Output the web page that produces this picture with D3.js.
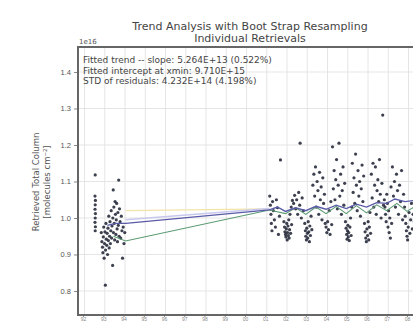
<!DOCTYPE html>
<html>
<head>
<meta charset="utf-8">
<script src="https://cdn.jsdelivr.net/npm/d3@7"></script>
<style>
  body { margin: 0; background: #fff; }
  svg { display: block; font-family: "DejaVu Sans", sans-serif; }
</style>
</head>
<body>
<div id="chart"></div>
<script>
// retrievals, [decimal year, column / 1e16]
const campaign1 = [
  [1992.60,1.118],[1992.59,1.060],[1992.61,1.048],[1992.60,1.036],[1992.59,1.024],[1992.61,1.012],
  [1992.60,1.000],[1992.59,0.988],[1992.61,0.976],[1992.60,0.965],
  [1992.90,0.960],[1992.93,0.935],[1992.96,0.920],[1992.98,0.905],[1993.00,0.948],[1993.02,0.975],
  [1993.04,0.890],[1993.06,0.930],[1993.08,0.962],[1993.10,0.816],[1993.11,0.912],[1993.13,0.985],
  [1993.15,0.942],[1993.17,0.925],[1993.19,0.958],[1993.21,0.900],[1993.23,0.972],[1993.25,0.938],
  [1993.27,1.005],[1993.29,0.918],[1993.31,0.950],[1993.33,0.990],[1993.35,0.930],[1993.37,0.965],
  [1993.39,1.020],[1993.41,0.945],[1993.43,0.978],
  [1993.46,0.870],[1993.47,1.000],[1993.49,1.077],[1993.50,0.960],[1993.52,1.030],[1993.54,0.985],
  [1993.56,0.940],[1993.58,1.045],[1993.60,1.010],[1993.62,0.955],[1993.64,0.995],[1993.66,1.040],
  [1993.68,0.970],[1993.70,0.935],[1993.72,1.015],[1993.74,0.980],[1993.76,1.104],[1993.78,0.950],
  [1993.80,1.025],[1993.83,0.990],[1993.86,0.945],[1993.89,1.005],[1993.92,0.965],[1993.95,0.890],
  [1993.98,0.975],[1994.02,0.930],[1994.06,0.960]
];

const campaign2 = [
  [2001.22,1.060],[2001.25,1.035],[2001.28,1.010],[2001.30,0.985],[2001.33,0.965],[2001.36,1.045],
  [2001.40,1.020],[2001.45,0.995],[2001.50,0.975],[2001.55,1.050],[2001.60,1.028],[2001.65,0.955],
  [2001.70,1.005],[2001.75,1.159],
  [2001.92,0.990],[2001.95,0.975],[2001.97,0.962],[2002.00,0.955],[2002.02,0.948],[2002.04,0.970],
  [2002.06,0.985],[2002.08,0.940],[2002.10,0.960],[2002.12,0.978],[2002.14,0.952],[2002.16,0.995],
  [2002.18,0.945],[2002.20,0.968],[2002.22,1.010],[2002.25,0.958],[2002.28,1.030],[2002.30,0.982],
  [2002.34,1.048],
  [2002.40,1.040],[2002.45,1.062],[2002.50,1.025],[2002.55,1.050],[2002.60,1.010],[2002.65,1.070],
  [2002.70,1.035],[2002.72,1.205],[2002.78,1.000],[2002.82,1.055],[2002.88,1.020],
  [2002.95,0.985],[2002.98,0.965],[2003.00,0.950],[2003.03,0.940],[2003.05,0.972],[2003.08,0.958],
  [2003.10,0.945],[2003.12,0.990],[2003.15,0.962],[2003.18,0.935],[2003.20,0.978],[2003.23,0.952],
  [2003.26,1.005],[2003.30,0.968],
  [2003.35,1.090],[2003.40,1.120],[2003.44,1.060],[2003.48,1.140],[2003.52,1.030],[2003.56,1.100],
  [2003.60,1.075],[2003.64,1.010],[2003.68,1.125],[2003.72,1.050],[2003.76,1.085],[2003.80,0.995],
  [2003.84,1.110],[2003.88,1.040],[2003.92,1.065],[2003.96,0.985],
  [2004.00,0.975],[2004.04,0.960],[2004.08,0.990],[2004.12,0.968],[2004.16,1.020],[2004.20,0.955],
  [2004.24,1.045],[2004.28,0.982],
  [2004.32,1.195],[2004.36,1.080],[2004.40,1.130],[2004.44,1.050],[2004.48,1.105],[2004.52,1.160],
  [2004.56,1.025],[2004.60,1.090],[2004.64,1.205],[2004.68,1.060],[2004.72,1.120],[2004.76,1.010],
  [2004.80,1.075],[2004.84,1.140],[2004.88,1.035],[2004.92,1.095],
  [2004.96,0.990],[2004.99,0.972],[2005.02,0.955],[2005.04,0.942],[2005.06,0.965],[2005.08,0.980],
  [2005.10,0.948],[2005.12,0.960],[2005.15,0.938],[2005.18,0.975],[2005.21,1.000],[2005.24,0.952],
  [2005.27,1.030],
  [2005.30,1.150],[2005.34,1.070],[2005.38,1.110],[2005.42,1.040],[2005.46,1.175],[2005.50,1.090],
  [2005.54,1.020],[2005.58,1.130],[2005.62,1.060],[2005.66,1.100],[2005.70,1.005],[2005.74,1.080],
  [2005.78,1.145],[2005.82,1.045],[2005.86,1.115],
  [2005.90,0.985],[2005.93,0.962],[2005.96,0.945],[2005.99,0.935],[2006.02,0.970],[2006.05,0.952],
  [2006.08,0.990],[2006.11,0.940],[2006.14,0.975],[2006.17,1.015],[2006.20,0.958],
  [2006.24,1.120],[2006.28,1.055],[2006.32,1.150],[2006.36,1.030],[2006.40,1.090],[2006.44,1.140],
  [2006.48,1.010],[2006.52,1.075],[2006.56,1.105],[2006.60,1.045],[2006.64,1.160],[2006.68,1.065],
  [2006.72,1.000],[2006.76,1.095],[2006.80,1.282],[2006.84,1.035],
  [2006.88,1.050],[2006.91,1.030],[2006.94,1.010],[2006.97,0.990],[2007.00,1.065],[2007.03,1.040],
  [2007.06,0.975],[2007.09,1.020],[2007.12,0.960],[2007.15,1.000],[2007.18,0.945],[2007.21,1.085],
  [2007.24,0.985],
  [2007.28,1.140],[2007.33,1.060],[2007.38,1.100],[2007.43,1.030],[2007.48,1.120],[2007.53,1.075],
  [2007.58,1.010],[2007.63,1.090],[2007.68,1.045],[2007.73,1.130],[2007.78,0.995],[2007.83,1.065],
  [2007.88,1.030],[2007.91,1.005],[2007.94,0.985],[2007.97,0.965],[2008.00,0.950],[2008.03,0.940],
  [2008.06,0.975],[2008.10,1.015],[2008.14,0.958],[2008.18,0.995],[2008.22,1.040],[2008.26,0.970],
  [2008.30,1.010],[2008.36,0.990],[2008.42,1.025]
];

// fitted curves
const bootFit = [
  [1993.2,0.980],[1993.6,0.985],[1994.1,0.985],[2001.2,1.022],[2001.6,1.030],
  [2002.0,1.018],[2002.5,1.028],[2003.0,1.020],[2003.5,1.032],[2004.0,1.024],[2004.5,1.035],
  [2005.0,1.026],[2005.5,1.038],[2006.0,1.030],[2006.5,1.042],[2007.0,1.040],[2007.4,1.052],
  [2007.9,1.045],[2008.4,1.048]
];
const trendFit = [
  [1993.5,0.950],[1994.1,0.937],[2001.2,1.022],[2002.0,1.012],[2002.5,1.028],[2003.0,1.010],
  [2003.5,1.030],[2004.0,1.012],[2004.5,1.032],[2005.0,1.012],[2005.5,1.034],[2006.0,1.014],
  [2006.5,1.036],[2007.0,1.020],[2007.5,1.040],[2008.0,1.018],[2008.4,1.032]
];
const upperFit = [[1994.1,0.995],[2001.2,1.026]];
const faintFit = [[1994.1,1.020],[2001.2,1.025]];

const yTicks = [0.8, 0.9, 1.0, 1.1, 1.2, 1.3, 1.4];
const xTicks = d3.range(1992, 2009);
const titleLines = ["Trend Analysis with Boot Strap Resampling", "Individual Retrievals"];
const infoLines = [
  "Fitted trend -- slope: 5.264E+13 (0.522%)",
  "Fitted intercept at xmin: 9.710E+15",
  "STD of residuals: 4.232E+14 (4.198%)"
];

const width = 413, height = 322;
const margin = {top: 47, left: 78, bottom: 7};
const plotRight = 422;

const svg = d3.select("#chart").append("svg")
  .attr("width", width)
  .attr("height", height);

const x = d3.scaleLinear()
  .domain([1991.75, 2008.74])
  .range([margin.left, plotRight]);

const y = d3.scaleLinear()
  .domain([0.7342, 1.4685])
  .range([height - margin.bottom, margin.top]);

// grid
svg.append("g")
  .selectAll("line")
  .data(xTicks)
  .join("line")
  .attr("x1", d => x(d) + 1.5).attr("x2", d => x(d) + 1.5)
  .attr("y1", margin.top).attr("y2", height - margin.bottom)
  .attr("stroke", "#e2e2e2")
  .attr("stroke-width", 0.9);

svg.append("g")
  .selectAll("line")
  .data(yTicks)
  .join("line")
  .attr("x1", margin.left).attr("x2", plotRight)
  .attr("y1", d => y(d)).attr("y2", d => y(d))
  .attr("stroke", "#e2e2e2")
  .attr("stroke-width", 0.9);

// axes
const yAxis = svg.append("g")
  .attr("transform", `translate(${margin.left},0)`)
  .call(d3.axisLeft(y).tickValues(yTicks).tickFormat(d3.format(".1f")).tickSize(4).tickPadding(3));
yAxis.select(".domain").remove();
yAxis.selectAll("line").attr("stroke", "#888");
yAxis.selectAll("text").attr("fill", "#555").style("font-size", "7.5px");

const xAxis = svg.append("g")
  .attr("transform", `translate(0,${height - margin.bottom})`)
  .call(d3.axisBottom(x).tickValues(xTicks).tickFormat(d => String(d).slice(2)).tickSize(2).tickPadding(1));
xAxis.select(".domain").remove();
xAxis.selectAll("line").attr("stroke", "#888");
xAxis.selectAll("text").attr("fill", "#888").style("font-size", "5px")
  .attr("dy", "0.5em");

// frame
svg.append("path")
  .attr("d", `M${plotRight},${margin.top}H${margin.left}V${height - margin.bottom}H${plotRight}`)
  .attr("fill", "none")
  .attr("stroke", "#666")
  .attr("stroke-width", 2);

// points
const pts = campaign1.concat(campaign2);
svg.append("g")
  .selectAll("circle")
  .data(pts)
  .join("circle")
  .attr("cx", d => x(d[0]))
  .attr("cy", d => y(d[1]))
  .attr("r", 1.6)
  .attr("fill", "#1a1f30")
  .attr("fill-opacity", 0.85);

// fit lines
const line = d3.line().x(d => x(d[0])).y(d => y(d[1]));
svg.append("path").attr("d", line(faintFit)).attr("fill", "none")
  .attr("stroke", "#f2e4a8").attr("stroke-width", 1.2);
svg.append("path").attr("d", line(upperFit)).attr("fill", "none")
  .attr("stroke", "#c8c8ee").attr("stroke-width", 1.5);
svg.append("path").attr("d", line(trendFit)).attr("fill", "none")
  .attr("stroke", "#5a9a72").attr("stroke-width", 1.1);
svg.append("path").attr("d", line(bootFit)).attr("fill", "none")
  .attr("stroke", "#5a5aa8").attr("stroke-width", 1.3);

// texts
svg.append("g")
  .selectAll("text")
  .data(titleLines)
  .join("text")
  .attr("x", 250)
  .attr("y", (d, i) => 30 + i * 12)
  .attr("text-anchor", "middle")
  .attr("fill", "#444")
  .style("font-size", "11px")
  .text(d => d);

svg.append("text")
  .attr("x", margin.left + 1)
  .attr("y", 44)
  .attr("fill", "#555")
  .style("font-size", "7px")
  .text("1e16");

svg.append("g")
  .selectAll("text")
  .data(infoLines)
  .join("text")
  .attr("x", margin.left + 5)
  .attr("y", (d, i) => 63 + i * 10.5)
  .attr("fill", "#444")
  .style("font-size", "9px")
  .text(d => d);

const yLab = svg.append("text")
  .attr("transform", `translate(39,182) rotate(-90)`)
  .attr("text-anchor", "middle")
  .attr("fill", "#555")
  .style("font-size", "8.5px");
yLab.append("tspan").attr("x", 0).attr("dy", 0).text("Retrieved Total Column");
yLab.append("tspan").attr("x", 0).attr("dy", 11).text("[molecules cm⁻²]");
</script>
</body>
</html>
